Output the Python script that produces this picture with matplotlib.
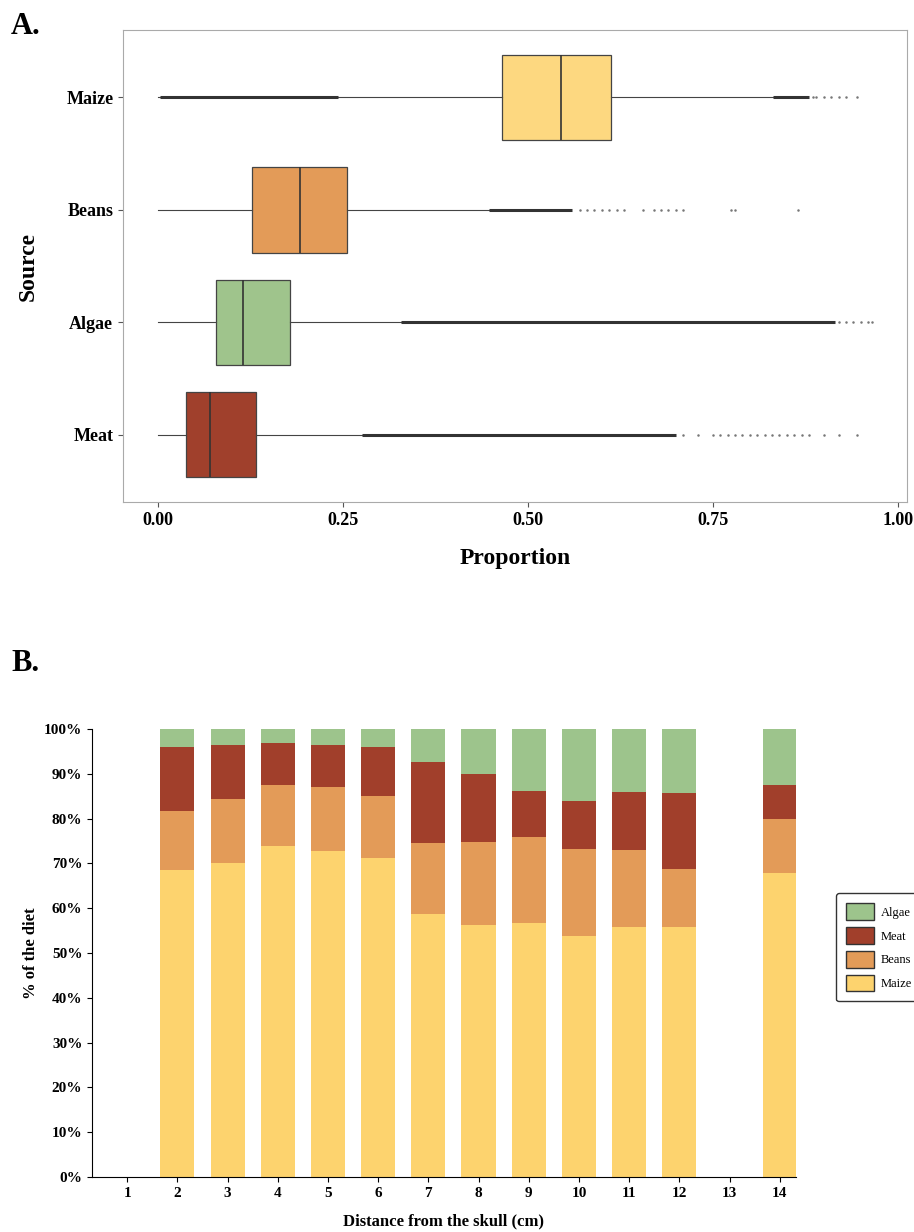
import numpy as np
import matplotlib.pyplot as plt

plt.rcParams['font.family'] = ['Liberation Serif', 'DejaVu Serif']

# ---------- Panel A data ----------
sources = ['Meat', 'Algae', 'Beans', 'Maize']
box_colors = ['#A0402C', '#9FC48C', '#E39B58', '#FDD880']
q1 = [0.038, 0.079, 0.127, 0.465]
med = [0.070, 0.115, 0.192, 0.545]
q3 = [0.133, 0.178, 0.255, 0.612]
whislo = [0.0, 0.0, 0.0, 0.0]
whishi = [0.276, 0.328, 0.447, 0.832]
# dense outlier bands (start, end) and sparse outliers
dense_lo = [0.276, 0.328, 0.447, 0.003]
dense_hi = [0.700, 0.915, 0.560, 0.243]
dense2_lo = [None, None, None, 0.832]
dense2_hi = [None, None, None, 0.880]
sparse = [
    [0.71, 0.73, 0.75, 0.76, 0.77, 0.78, 0.79, 0.80, 0.81, 0.82, 0.83, 0.84, 0.85, 0.86, 0.87, 0.88, 0.90, 0.92, 0.945],
    [0.92, 0.93, 0.94, 0.95, 0.96, 0.965],
    [0.57, 0.58, 0.59, 0.60, 0.61, 0.62, 0.63, 0.655, 0.67, 0.68, 0.69, 0.70, 0.71, 0.775, 0.78, 0.865],
    [0.885, 0.89, 0.90, 0.91, 0.92, 0.93, 0.945],
]

# ---------- Panel B data ----------
distance = list(range(1, 15))
maize = [0, 68.5, 70.0, 73.8, 72.8, 71.2, 58.8, 56.3, 56.8, 53.8, 55.9, 55.9, 0, 67.9]
beans = [0, 13.2, 14.3, 13.7, 14.2, 13.8, 15.8, 18.5, 19.1, 19.4, 17.2, 12.9, 0, 12.0]
meat = [0, 14.3, 12.2, 9.3, 9.5, 11.0, 18.0, 15.1, 10.2, 10.8, 12.8, 17.0, 0, 7.6]
algae = [0, 4.0, 3.5, 3.2, 3.5, 4.0, 7.4, 10.1, 13.9, 16.0, 14.1, 14.2, 0, 12.5]
bar_colors = {'Maize': '#FDD36E', 'Beans': '#E39B58', 'Meat': '#A13F2B', 'Algae': '#9DC48C'}

fig = plt.figure(figsize=(9.14, 12.32), dpi=100)

# ===== A =====
ax1 = fig.add_axes([0.1346, 0.5925, 0.8574, 0.3831])
stats = []
for i, s in enumerate(sources):
    stats.append(dict(label=s, q1=q1[i], med=med[i], q3=q3[i],
                      whislo=whislo[i], whishi=whishi[i], fliers=sparse[i]))
pos = np.arange(len(sources))
bp = ax1.bxp(stats, positions=pos, vert=False, widths=0.76, patch_artist=True,
             showcaps=False,
             boxprops=dict(edgecolor='#444444', linewidth=0.9),
             medianprops=dict(color='#333333', linewidth=1.2),
             whiskerprops=dict(color='#444444', linewidth=0.8),
             flierprops=dict(marker='o', markersize=1.8, markerfacecolor='#555555',
                             markeredgecolor='none', alpha=0.8))
for patch, c in zip(bp['boxes'], box_colors):
    patch.set_facecolor(c)
for i in range(len(sources)):
    ax1.hlines(pos[i], dense_lo[i], dense_hi[i], color='#333333', linewidth=2.2)
    if dense2_lo[i] is not None:
        ax1.hlines(pos[i], dense2_lo[i], dense2_hi[i], color='#333333', linewidth=2.2)
ax1.set_xlim(-0.047, 1.012)
ax1.set_ylim(-0.6, 3.6)
ax1.set_xticks([0, 0.25, 0.5, 0.75, 1.0])
ax1.set_xticklabels(['0.00', '0.25', '0.50', '0.75', '1.00'])
ax1.set_yticks(pos)
ax1.set_yticklabels(sources)
for lab in ax1.get_xticklabels() + ax1.get_yticklabels():
    lab.set_fontsize(13)
    lab.set_fontweight('bold')
for sp in ax1.spines.values():
    sp.set_color('#aaaaaa')
ax1.tick_params(colors='#555555', labelcolor='black')
ax1.set_xlabel('Proportion', fontsize=17, fontweight='bold', labelpad=14)
ax1.set_ylabel('Source', fontsize=17, fontweight='bold', labelpad=20)
fig.text(0.012, 0.972, 'A.', fontsize=22, fontweight='bold')

# ===== B =====
ax2 = fig.add_axes([0.1007, 0.0446, 0.770, 0.3636])
x = np.array(distance)
w = 0.68
bottom = np.zeros(len(x))
handles = []
for name, vals in [('Maize', maize), ('Beans', beans), ('Meat', meat), ('Algae', algae)]:
    h = ax2.bar(x, vals, w, bottom=bottom, color=bar_colors[name], label=name)
    handles.append(h)
    bottom += np.array(vals)
ax2.set_xlim(0.3, 14.32)
ax2.set_ylim(0, 100)
ax2.set_xticks(x)
ax2.set_yticks(np.arange(0, 101, 10))
ax2.set_yticklabels([f'{v}%' for v in range(0, 101, 10)])
for lab in ax2.get_xticklabels() + ax2.get_yticklabels():
    lab.set_fontsize(11)
    lab.set_fontweight('bold')
ax2.spines['top'].set_visible(False)
ax2.spines['right'].set_visible(False)
ax2.set_xlabel('Distance from the skull (cm)', fontsize=12, fontweight='bold', labelpad=10)
ax2.set_ylabel('% of the diet', fontsize=12, fontweight='bold')
leg = fig.legend(handles[::-1], ['Algae', 'Meat', 'Beans', 'Maize'],
                 loc='center left', bbox_to_anchor=(0.908, 0.231), fontsize=9,
                 frameon=True, fancybox=True, edgecolor='black',
                 handlelength=2.2, handleheight=1.7, labelspacing=0.55,
                 borderpad=0.8, handletextpad=0.6)
leg.get_frame().set_linewidth(1.0)
for p in leg.get_patches():
    p.set_edgecolor('#333333')
fig.text(0.012, 0.455, 'B.', fontsize=22, fontweight='bold')

fig.savefig('out.png', dpi=100)
